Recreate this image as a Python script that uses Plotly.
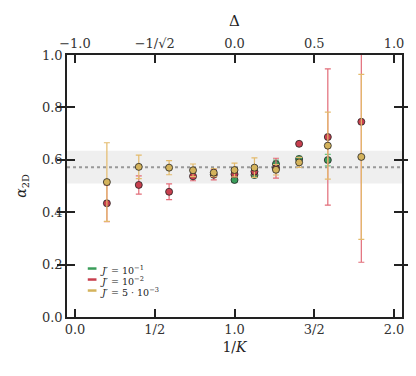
import plotly.graph_objects as go

# 1/K positions of the simulated points
x_all = [0.2, 0.4, 0.59, 0.74, 0.87, 1.0, 1.125, 1.26, 1.405, 1.585, 1.795]

# J' = 10^-1
x_g = [1.0, 1.125, 1.26, 1.405, 1.585]
y_g = [0.523, 0.542, 0.584, 0.603, 0.599]
e_g = [0.008, 0.01, 0.015, 0.01, 0.022]

# J' = 10^-2
y_r = [0.434, 0.504, 0.478, 0.537, 0.543, 0.545, 0.555, 0.568, 0.661, 0.687, 0.745]
e_r = [0.07, 0.035, 0.03, 0.017, 0.02, 0.01, 0.012, 0.038, 0.004, 0.26, 0.536]

# J' = 5*10^-3
y_y = [0.515, 0.573, 0.570, 0.560, 0.551, 0.561, 0.570, 0.562, 0.590, 0.654, 0.611]
e_y = [0.15, 0.045, 0.027, 0.024, 0.015, 0.026, 0.037, 0.02, 0.019, 0.128, 0.315]

band_lo, band_hi, alpha_mean = 0.51, 0.635, 0.572

bottom_vals = [0, 0.5, 1.0, 1.5, 2.0]
bottom_text = ["0.0", "1/2", "1.0", "3/2", "2.0"]
top_text = ["\u22121.0", "\u22121/\u221a2", "0.0", "0.5", "1.0"]

GREEN = "#3a9d5a"
RED = "#c83f4e"
YELLOW = "#d4b35c"
GREEN_E = "#6cc585"
RED_E = "#e26c78"
YELLOW_E = "#e4bb6c"

FONT = "DejaVu Serif"

fig = go.Figure()

series = [
    (x_g, y_g, e_g, GREEN, GREEN_E, "<i>J</i>\u2032 = 10<sup>\u22121</sup>"),
    (x_all, y_r, e_r, RED, RED_E, "<i>J</i>\u2032 = 10<sup>\u22122</sup>"),
    (x_all, y_y, e_y, YELLOW, YELLOW_E, "<i>J</i>\u2032 = 5 \u00b7 10<sup>\u22123</sup>"),
]

for xs, ys, es, c, ce, name in series:
    fig.add_trace(go.Scatter(
        x=xs, y=ys, mode="markers", showlegend=False,
        marker=dict(size=7, color=c, line=dict(color="#222222", width=0.8)),
        error_y=dict(type="data", array=es, color=ce, thickness=1.2, width=3),
    ))

# invisible trace for the top axis
fig.add_trace(go.Scatter(x=[0, 2], y=[0, 0], xaxis="x2", mode="markers",
                         marker=dict(opacity=0), showlegend=False, hoverinfo="skip"))

fig.add_shape(type="rect", xref="paper", x0=0, x1=1, y0=band_lo, y1=band_hi,
              fillcolor="#efefef", line=dict(width=0), layer="below")
fig.add_shape(type="line", xref="paper", x0=0, x1=1, y0=alpha_mean, y1=alpha_mean,
              line=dict(color="#999999", width=2, dash="dot"), layer="below")

# compact legend: short coloured line + label
for i, (xs, ys, es, c, ce, name) in enumerate(series):
    ly = 0.185 - i * 0.042
    fig.add_shape(type="line", xref="paper", yref="paper", x0=0.062, x1=0.088,
                  y0=ly, y1=ly, line=dict(color=c, width=2.5))
    fig.add_annotation(xref="paper", yref="paper", x=0.092, y=ly - 0.004, text=name,
                       showarrow=False, xanchor="left", yanchor="middle",
                       font=dict(family=FONT, size=9.5, color="#222222"))

axis_common = dict(
    showgrid=False, zeroline=False, showline=True, linecolor="#222222", linewidth=1.5,
    ticks="inside", ticklen=8, tickwidth=1.5, tickcolor="#222222",
    tickfont=dict(family=FONT, size=13, color="#333333"),
)

# the page body adds an 8px offset, so the figure is 8px smaller and margins shifted
fig.update_layout(
    width=408, height=368,
    margin=dict(l=54, r=14, t=47, b=59),
    paper_bgcolor="white", plot_bgcolor="white",
    font=dict(family=FONT, color="#222222"),
    showlegend=False,
    xaxis=dict(range=[-0.05, 2.05], tickvals=bottom_vals, ticktext=bottom_text,
               title=dict(text="1/<i>K</i>", font=dict(family=FONT, size=14), standoff=6),
               mirror=True, **axis_common),
    xaxis2=dict(range=[-0.05, 2.05], overlaying="x", side="top", anchor="y",
                tickvals=bottom_vals, ticktext=top_text,
                title=dict(text="\u0394", font=dict(family=FONT, size=15), standoff=6),
                **axis_common),
    yaxis=dict(range=[0, 1], tickvals=[0, 0.2, 0.4, 0.6, 0.8, 1.0],
               ticktext=["0.0", "0.2", "0.4", "0.6", "0.8", "1.0"],
               title=dict(text="<i>\u03b1</i><sub>2D</sub>", font=dict(family=FONT, size=14), standoff=12),
               mirror="allticks", **axis_common),
)

fig.write_html("out.html")
